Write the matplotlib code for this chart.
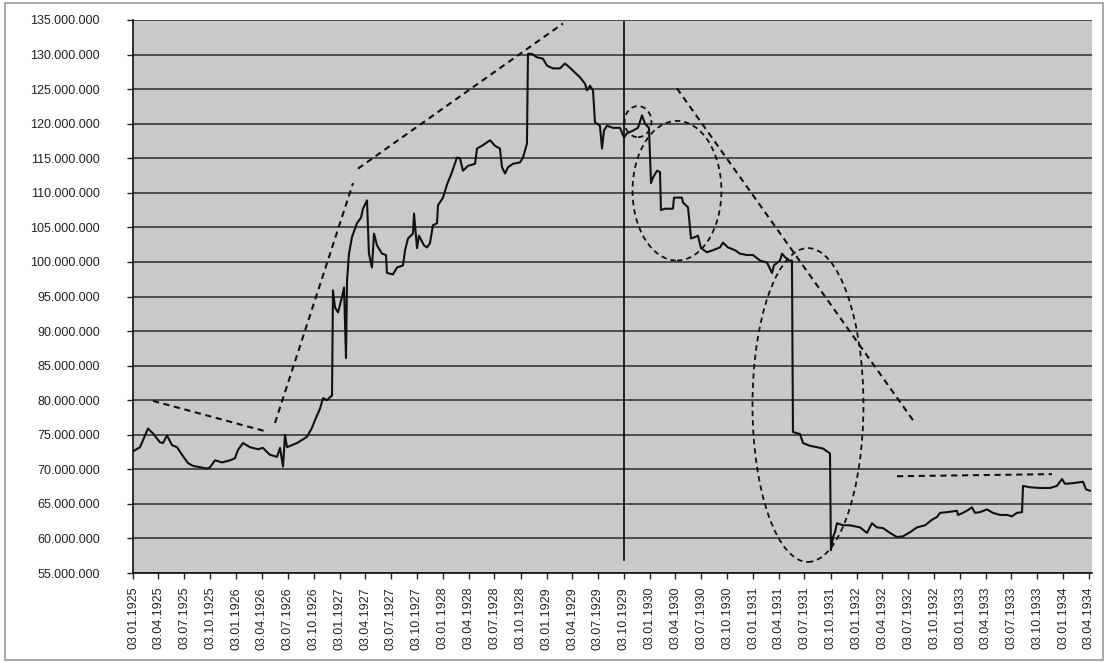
import numpy as np
import matplotlib
matplotlib.use('Agg')
import matplotlib.pyplot as plt
import matplotlib.dates as mdates
from matplotlib.patches import Ellipse, Rectangle
from datetime import datetime

plt.rcParams['font.family'] = ['Liberation Sans', 'DejaVu Sans']

# series, time as decimal years (1925.0 = 03.01.1925), values in millions
t = [1925.000, 1925.068, 1925.145, 1925.193, 1925.261, 1925.290, 1925.329, 1925.377,
     1925.426, 1925.474, 1925.532, 1925.580, 1925.648, 1925.716, 1925.745, 1925.793,
     1925.861, 1925.938, 1925.986, 1926.015, 1926.064, 1926.132, 1926.209, 1926.257,
     1926.296, 1926.325, 1926.393, 1926.422, 1926.451, 1926.470, 1926.489, 1926.586,
     1926.683, 1926.731, 1926.760, 1926.809, 1926.838, 1926.876, 1926.925, 1926.934,
     1926.954, 1926.983, 1927.021, 1927.041, 1927.060, 1927.070, 1927.089, 1927.118,
     1927.166, 1927.205, 1927.224, 1927.263, 1927.282, 1927.311, 1927.331, 1927.360,
     1927.408, 1927.447, 1927.456, 1927.515, 1927.553, 1927.611, 1927.631, 1927.660,
     1927.708, 1927.718, 1927.747, 1927.766, 1927.814, 1927.843, 1927.872, 1927.901,
     1927.940, 1927.950, 1927.998, 1928.037, 1928.085, 1928.133, 1928.162, 1928.191,
     1928.240, 1928.308, 1928.327, 1928.375, 1928.424, 1928.453, 1928.501, 1928.549,
     1928.569, 1928.598, 1928.627, 1928.675, 1928.743, 1928.772, 1928.810, 1928.820,
     1928.859, 1928.907, 1928.965, 1929.004, 1929.062, 1929.130, 1929.178, 1929.226,
     1929.275, 1929.323, 1929.371, 1929.391, 1929.420, 1929.449, 1929.468, 1929.516,
     1929.536, 1929.555, 1929.584, 1929.642, 1929.710, 1929.749, 1929.778, 1929.836,
     1929.884, 1929.923, 1929.952, 1929.990, 1930.010, 1930.029, 1930.068, 1930.097,
     1930.106, 1930.145, 1930.222, 1930.232, 1930.309, 1930.319, 1930.368, 1930.397,
     1930.435, 1930.464, 1930.493, 1930.551, 1930.609, 1930.677, 1930.706, 1930.754,
     1930.822, 1930.870, 1930.938, 1930.996, 1931.064, 1931.132, 1931.180, 1931.199,
     1931.257, 1931.277, 1931.306, 1931.344, 1931.373, 1931.383, 1931.451, 1931.480,
     1931.547, 1931.615, 1931.673, 1931.721, 1931.741, 1931.750, 1931.770, 1931.789,
     1931.809, 1931.867, 1931.934, 1932.031, 1932.099, 1932.147, 1932.195, 1932.253,
     1932.321, 1932.389, 1932.447, 1932.515, 1932.582, 1932.660, 1932.727, 1932.776,
     1932.805, 1932.872, 1932.969, 1932.979, 1933.027, 1933.075, 1933.114, 1933.143,
     1933.191, 1933.259, 1933.317, 1933.385, 1933.453, 1933.501, 1933.549, 1933.598,
     1933.608, 1933.675, 1933.772, 1933.868, 1933.936, 1933.985, 1934.014, 1934.091,
     1934.188, 1934.217, 1934.255]
v = [72.6, 73.2, 75.9, 75.2, 73.9, 73.8, 74.9, 73.5,
     73.2, 72.1, 70.9, 70.5, 70.3, 70.1, 70.3, 71.3,
     71.0, 71.3, 71.6, 72.8, 73.8, 73.2, 72.9, 73.1,
     72.5, 72.1, 71.8, 73.1, 70.4, 75.0, 73.2, 73.8,
     74.7, 76.0, 77.1, 78.8, 80.3, 80.0, 80.7, 95.9,
     93.4, 92.7, 94.9, 96.3, 86.1, 97.3, 101.2, 103.6,
     105.6, 106.4, 107.7, 108.9, 101.2, 99.2, 104.1, 102.4,
     101.2, 101.0, 98.4, 98.2, 99.2, 99.5, 101.7, 103.4,
     104.1, 107.0, 102.0, 103.8, 102.4, 102.1, 102.7, 105.3,
     105.6, 108.2, 109.3, 111.2, 113.0, 115.1, 115.0, 113.2,
     113.9, 114.2, 116.4, 116.8, 117.3, 117.6, 116.8, 116.4,
     113.7, 112.8, 113.7, 114.2, 114.4, 115.1, 117.1, 130.1,
     130.1, 129.6, 129.4, 128.4, 128.0, 128.0, 128.7, 128.1,
     127.4, 126.7, 125.8, 124.8, 125.5, 124.8, 120.2, 119.7,
     116.4, 119.0, 119.7, 119.4, 119.4, 118.0, 118.6, 119.0,
     119.4, 121.2, 120.0, 119.4, 111.4, 112.2, 113.2, 113.0,
     107.5, 107.7, 107.7, 109.3, 109.3, 108.6, 107.9, 103.4,
     103.6, 103.8, 102.0, 101.4, 101.7, 102.1, 102.8, 102.1,
     101.7, 101.2, 101.0, 101.0, 100.2, 99.9, 98.4, 99.5,
     100.2, 101.2, 100.7, 100.2, 100.2, 75.4, 75.1, 73.8,
     73.4, 73.2, 73.0, 72.5, 72.3, 58.3, 60.2, 60.9,
     62.2, 61.9, 61.9, 61.6, 60.8, 62.2, 61.6, 61.5,
     60.8, 60.2, 60.3, 60.9, 61.6, 61.9, 62.7, 63.1,
     63.7, 63.8, 64.0, 63.4, 63.7, 64.1, 64.5, 63.7,
     63.8, 64.2, 63.7, 63.4, 63.4, 63.2, 63.7, 63.8,
     67.6, 67.4, 67.3, 67.3, 67.6, 68.6, 67.9, 68.0,
     68.2, 67.1, 66.9]

# marker line at 03.10.1929
crash_t = 1929.75
crash_v = [56.9, 134.7]

# dashed trend lines: (t0, v0, t1, v1)
trend_lines = [
    (1925.193, 79.9, 1926.306, 75.4),
    (1926.373, 76.7, 1927.128, 111.4),
    (1927.176, 113.5, 1929.159, 134.5),
    (1930.261, 125.1, 1932.563, 76.7),
    (1932.389, 69.0, 1933.888, 69.3),
]

# dashed ellipses: (centre t, centre v, width in days, height in millions)
ellipses = [
    (1929.884, 120.3, 95, 4.5),
    (1930.261, 110.3, 314, 20.2),
    (1931.528, 79.3, 392, 45.4),
]

base = mdates.date2num(datetime(1925, 1, 3))


def to_num(year):
    return base + (np.asarray(year) - 1925.0) * 365.25


tick_dates = [datetime(y, m, 3) for y in range(1925, 1935) for m in (1, 4, 7, 10)]
tick_dates = [d for d in tick_dates if d <= datetime(1934, 4, 3)]
y_ticks = np.arange(55, 136, 5)

fig = plt.figure(figsize=(11.06, 6.62), dpi=100)
fig.patches.append(Rectangle((5 / 1106, 2 / 662), 1098 / 1106, 657 / 662,
                             transform=fig.transFigure, fill=False,
                             edgecolor='#9a9a9a', linewidth=1.2))
ax = fig.add_axes([133 / 1106, 1 - 573 / 662, 959 / 1106, 553 / 662])
ax.set_facecolor('#c9c9c9')

# grid
for yv in y_ticks:
    ax.axhline(yv, color='#2b2b2b', linewidth=1.1, zorder=1)

ax.plot(to_num(t), v, color='#111111', linewidth=1.5, zorder=3)
ax.plot([to_num(crash_t)] * 2, crash_v, color='#111111', linewidth=1.3, zorder=3)

for t0, v0, t1, v1 in trend_lines:
    ax.plot(to_num([t0, t1]), [v0, v1], color='#111111', linewidth=1.5,
            linestyle=(0, (3, 2.2)), zorder=4)

for tc, vc, w, h in ellipses:
    ax.add_patch(Ellipse((to_num(tc), vc), w, h, fill=False, edgecolor='#111111',
                         linewidth=1.3, linestyle=(0, (3, 2.2)), zorder=4))

ax.set_xlim(to_num(1925.0), to_num(1934.275))
ax.set_ylim(55, 135)

ax.set_yticks(y_ticks)
ax.set_yticklabels([f"{int(y * 1e6):,}".replace(',', '.') for y in y_ticks],
                   fontsize=9, color='#222222')
ax.set_xticks(mdates.date2num(tick_dates))
ax.set_xticklabels([d.strftime('%d.%m.%Y') for d in tick_dates], rotation=90,
                   fontsize=9, color='#222222')
ax.tick_params(axis='y', length=4, width=1, pad=20, color='#222222')
ax.tick_params(axis='x', length=4, width=1, pad=6, color='#222222')

for s in ['top', 'right']:
    ax.spines[s].set_visible(False)
ax.spines['left'].set_color('#111111')
ax.spines['bottom'].set_color('#111111')
ax.spines['left'].set_linewidth(1.2)
ax.spines['bottom'].set_linewidth(1.2)

plt.savefig('out.png', dpi=100)
